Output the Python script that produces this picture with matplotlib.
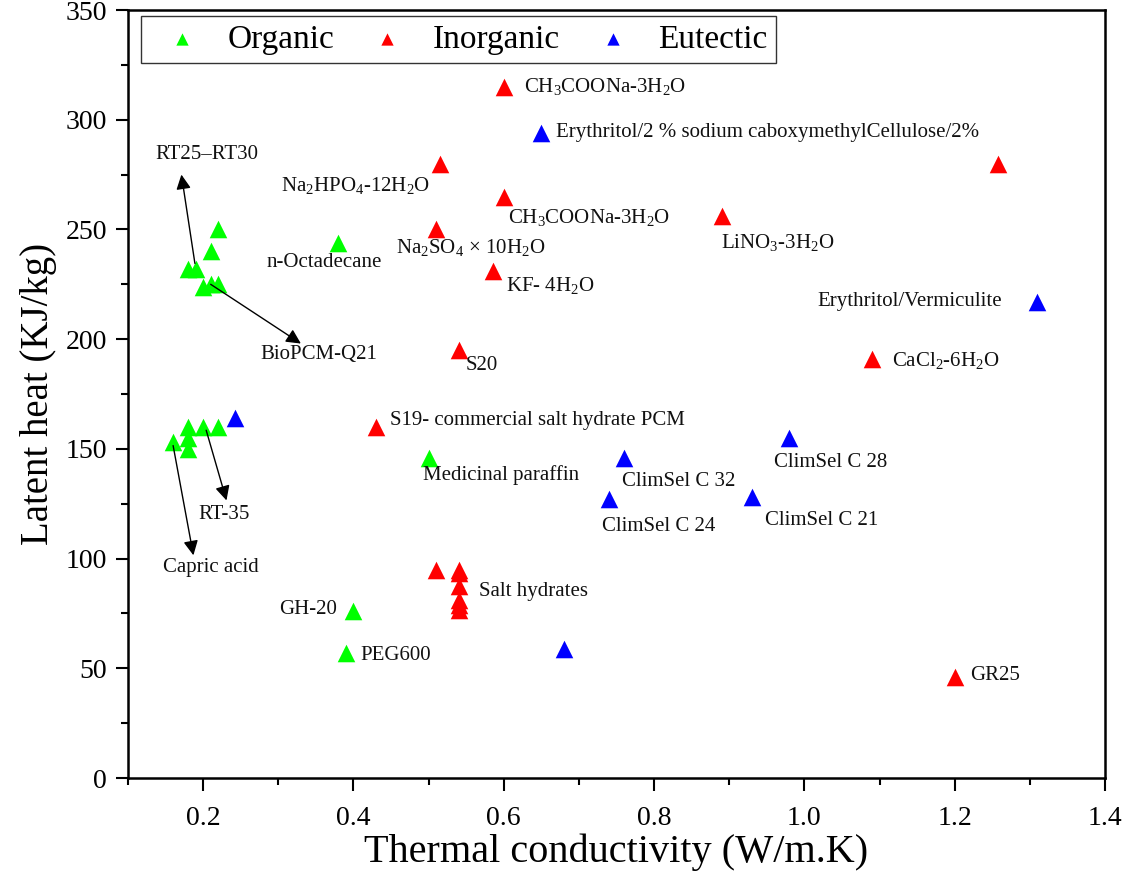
import matplotlib
matplotlib.use("Agg")
import matplotlib.pyplot as plt

plt.rcParams['font.family'] = ['Liberation Serif', 'DejaVu Serif']
plt.rcParams['mathtext.fontset'] = 'custom'
plt.rcParams['mathtext.rm'] = 'Liberation Serif'
plt.rcParams['mathtext.it'] = 'Liberation Serif:italic'

# Data
organic_x = [0.22, 0.21, 0.18, 0.19, 0.20, 0.21, 0.22, 0.38, 0.18, 0.20, 0.22, 0.16, 0.18, 0.18, 0.50, 0.40, 0.39]
organic_y = [250, 240, 232, 232, 224, 225, 225, 244, 160, 160, 160, 153, 155, 150, 146, 76, 57]

inorganic_x = [0.60, 0.515, 0.60, 0.51, 0.585, 0.89, 1.257, 1.09, 0.54, 0.43, 1.20,
               0.51, 0.54, 0.54, 0.54, 0.54, 0.54, 0.54]
inorganic_y = [315, 280, 265, 250, 231, 256, 280, 191, 195, 160, 46,
               95, 95, 93.5, 87.5, 81, 79, 76.5]

eutectic_x = [0.65, 1.31, 0.243, 0.76, 0.98, 0.74, 0.93, 0.68]
eutectic_y = [294, 217, 164, 146, 155, 127, 128, 59]

# label text and where it sits (left edge, vertical centre)
labels = [
    (r'CH$_3$COONa-3H$_2$O', 0.627, 315),
    ('Erythritol/2 % sodium caboxymethylCellulose/2%', 0.669, 294),
    (r'Na$_2$HPO$_4$-12H$_2$O', 0.303, 270),
    (r'CH$_3$COONa-3H$_2$O', 0.605, 255.5),
    (r'Na$_2$SO$_4$ $\times$ 10H$_2$O', 0.457, 242),
    ('n-Octadecane', 0.284, 235),
    (r'LiNO$_3$-3H$_2$O', 0.889, 244),
    (r'KF- 4H$_2$O', 0.603, 224.5),
    ('Erythritol/Vermiculite', 1.017, 217),
    ('S20', 0.549, 188),
    (r'CaCl$_2$-6H$_2$O', 1.117, 190.5),
    ('S19- commercial salt hydrate PCM', 0.449, 163),
    ('ClimSel C 28', 0.96, 144),
    ('Medicinal paraffin', 0.493, 138),
    ('ClimSel C 32', 0.757, 135),
    ('ClimSel C 24', 0.731, 114.5),
    ('ClimSel C 21', 0.947, 117.5),
    ('Salt hydrates', 0.567, 85),
    ('GH-20', 0.301, 77),
    ('PEG600', 0.409, 56),
    ('GR25', 1.22, 46.5),
    ('RT25–RT30', 0.137, 284),
    ('BioPCM-Q21', 0.276, 193),
    ('RT-35', 0.193, 120),
    ('Capric acid', 0.147, 96),
]

# arrows: (tip, start)
arrows = [
    ((0.171, 275), (0.189, 234.5)),
    ((0.33, 198), (0.21, 225)),
    ((0.231, 126.5), (0.204, 158.5)),
    ((0.187, 101.5), (0.16, 151.5)),
]

fig = plt.figure(figsize=(11.3, 8.8), dpi=100)
ax = fig.add_axes([0.1133, 0.1159, 0.8646, 0.8727])

ms = 160
ax.scatter(organic_x, organic_y, marker='^', s=ms, color='#00FF00', linewidths=0, label='Organic', zorder=3)
ax.scatter(inorganic_x, inorganic_y, marker='^', s=ms, color='#FF0000', linewidths=0, label='Inorganic', zorder=3)
ax.scatter(eutectic_x, eutectic_y, marker='^', s=ms, color='#0000FF', linewidths=0, label='Eutectic', zorder=3)

for txt, tx, ty in labels:
    ax.text(tx, ty, txt, ha='left', va='center', fontsize=15, color='#111111')

for tip, start in arrows:
    ax.annotate('', xy=tip, xytext=start,
                arrowprops=dict(arrowstyle='-|>', color='black', lw=1.0,
                                mutation_scale=22, shrinkA=0, shrinkB=0))

ax.set_xlim(0.1, 1.4)
ax.set_ylim(0, 350)
ax.set_xticks([0.2, 0.4, 0.6, 0.8, 1.0, 1.2, 1.4])
ax.set_xticklabels(['0.2', '0.4', '0.6', '0.8', '1.0', '1.2', '1.4'])
ax.set_xticks([0.1, 0.3, 0.5, 0.7, 0.9, 1.1, 1.3], minor=True)
ax.set_yticks(range(0, 351, 50))
ax.set_yticks(range(25, 350, 50), minor=True)

ax.tick_params(axis='both', which='major', direction='out', length=9, width=1.5, labelsize=20)
ax.tick_params(axis='both', which='minor', direction='out', length=5, width=1.5)
ax.tick_params(axis='x', which='major', pad=11)
ax.tick_params(axis='y', which='major', pad=6)
for sp in ax.spines.values():
    sp.set_linewidth(1.8)

ax.set_xlabel('Thermal conductivity (W/m.K)', fontsize=29, labelpad=2)
ax.set_ylabel('Latent heat (KJ/kg)', fontsize=28, labelpad=6)

leg = ax.legend(loc='upper left', bbox_to_anchor=(0.013, 0.992), ncol=3, fontsize=24,
                markerscale=0.7, frameon=True, fancybox=False, edgecolor='black',
                borderpad=0.25, handlelength=2.0, handletextpad=0.35, columnspacing=0.6,
                borderaxespad=0)
leg.get_frame().set_linewidth(1.0)

fig.savefig('out.png', dpi=100)
